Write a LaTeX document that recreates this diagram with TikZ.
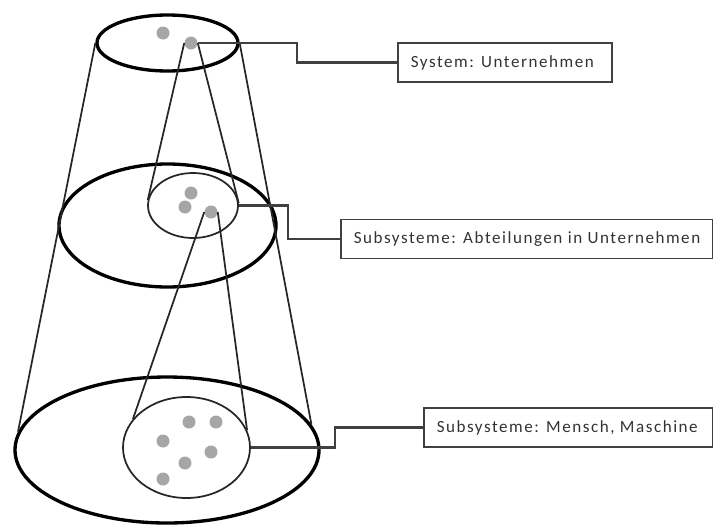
\documentclass[tikz,border=0pt]{standalone}
\usepackage{fontspec}
\setmainfont{Carlito}[LetterSpace=9]
\usetikzlibrary{shapes.geometric}
\definecolor{dotgray}{RGB}{166,166,166}
\definecolor{linkgray}{RGB}{64,64,64}
\newcommand{\lbltext}[2]{\makebox[#1][l]{\hspace{9.75pt}#2}}
\begin{document}
\begin{tikzpicture}[x=0.75pt,y=-0.75pt,
  thick ellipse/.style={ellipse, draw=black, line width=2.5pt, inner sep=0pt},
  thin ellipse/.style={ellipse, draw=black!85, line width=1.3pt, inner sep=0pt},
  dot/.style={circle, fill=dotgray, inner sep=0pt, minimum size=9.75pt},
  cone/.style={draw=black!85, line width=1.3pt},
  link/.style={draw=linkgray, line width=1.6pt},
  label box/.style={draw=linkgray, line width=1.2pt, inner sep=0pt, minimum height=29.25pt, text=black!80, font=\fontsize{12.8}{15}\selectfont, anchor=west}]
\useasboundingbox (0,0) rectangle (713,525);
% ellipses
\node[thick ellipse, minimum width=105.75pt, minimum height=42pt] (topE) at (167.5,43) {};
\node[thick ellipse, minimum width=162.75pt, minimum height=92.25pt] (midE) at (167.5,225.5) {};
\node[thick ellipse, minimum width=228pt, minimum height=109.5pt] (botE) at (167,450) {};
\node[thin ellipse, minimum width=67.5pt, minimum height=48.75pt] (midS) at (193,205.5) {};
\node[thin ellipse, minimum width=95.25pt, minimum height=75.75pt] (botS) at (186.5,447.5) {};
% dots
\node[dot] (d1) at (163,33) {};
\node[dot] (d2) at (191,43) {};
\node[dot] (m1) at (191,193) {};
\node[dot] (m2) at (185,207) {};
\node[dot] (m3) at (211,212) {};
\node[dot] (b1) at (189,422) {};
\node[dot] (b2) at (216,422) {};
\node[dot] (b3) at (163,441) {};
\node[dot] (b4) at (211,452) {};
\node[dot] (b5) at (185,463) {};
\node[dot] (b6) at (163,479) {};
% cone lines
\draw[cone] (topE.west) -- (botE.173);
\draw[cone] (topE.east) -- (botE.10);
\draw[cone] (d2.west) -- (midS.173);
\draw[cone] (d2.east) -- (midS.3);
\draw[cone] (m3.west) -- (botS.152);
\draw[cone] (m3.east) -- (botS.16);
% boxes
\node[label box] (box1) at (397,62.5) {\lbltext{160.5pt}{System: Unternehmen}};
\node[label box] (box2) at (340,239) {\lbltext{279pt}{Subsysteme: Abteilungen in Unternehmen}};
\node[label box] (box3) at (423,427.5) {\lbltext{216.75pt}{Subsysteme: Mensch, Maschine}};
% links
\coordinate (k1) at (297,43);
\coordinate (k2) at (288,205.5);
\coordinate (k3) at (335,447.5);
\draw[link] (d2.east) -- (k1) |- (box1.west);
\draw[link] (midS.east) -- (k2) |- (box2.west);
\draw[link] (botS.east) -- (k3) |- (box3.west);
\end{tikzpicture}
\end{document}
